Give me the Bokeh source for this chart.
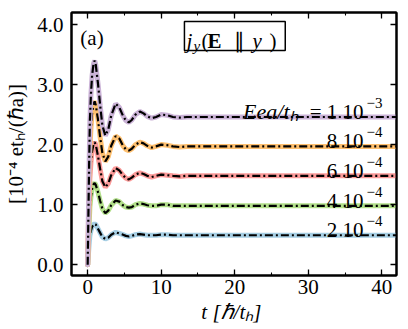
from bokeh.plotting import figure
from bokeh.models import (Range1d, LinearAxis, SingleIntervalTicker, PrintfTickFormatter,
                          BoxAnnotation, Label, CustomJSTickFormatter)
from bokeh.core.properties import value
from bokeh.embed import file_html
from bokeh.resources import INLINE

# ---- data ----
t = [0, 0.1, 0.2, 0.3, 0.45, 0.6, 0.8, 0.95, 1.1, 1.4,
     1.7, 2.0, 2.4, 2.8, 3.2, 3.8, 4.3, 4.8, 5.2, 5.6,
     6.0, 6.5, 7.1, 7.6, 8.1, 8.7, 9.3, 10.0, 10.8, 11.6,
     12.5, 13.5, 15, 20, 25, 30, 35, 40, 42]

j_1e3 = [0, 0.85, 1.70, 2.40, 2.85, 3.15, 3.35, 3.40, 3.33, 3.02,
         2.65, 2.32, 2.15, 2.25, 2.48, 2.68, 2.62, 2.48, 2.40, 2.37,
         2.41, 2.50, 2.55, 2.52, 2.47, 2.44, 2.46, 2.50, 2.49, 2.46,
         2.45, 2.46, 2.46, 2.46, 2.46, 2.46, 2.46, 2.46, 2.46]
j_8e4 = [0, 0.68, 1.36, 1.92, 2.28, 2.52, 2.68, 2.72, 2.66, 2.42,
         2.12, 1.86, 1.72, 1.80, 1.98, 2.14, 2.10, 1.98, 1.92, 1.90,
         1.93, 2.00, 2.04, 2.02, 1.98, 1.95, 1.97, 2.00, 1.99, 1.97,
         1.96, 1.97, 1.97, 1.97, 1.97, 1.97, 1.97, 1.97, 1.97]
j_6e4 = [0, 0.51, 1.02, 1.44, 1.71, 1.89, 2.01, 2.04, 2.00, 1.81,
         1.59, 1.39, 1.29, 1.35, 1.49, 1.61, 1.57, 1.49, 1.44, 1.42,
         1.45, 1.50, 1.53, 1.51, 1.48, 1.46, 1.48, 1.50, 1.49, 1.48,
         1.47, 1.48, 1.48, 1.48, 1.48, 1.48, 1.48, 1.48, 1.48]
j_4e4 = [0, 0.34, 0.68, 0.96, 1.14, 1.26, 1.34, 1.36, 1.33, 1.21,
         1.06, 0.93, 0.86, 0.90, 0.99, 1.07, 1.05, 0.99, 0.96, 0.95,
         0.96, 1.00, 1.02, 1.01, 0.99, 0.98, 0.98, 1.00, 1.00, 0.98,
         0.98, 0.98, 0.98, 0.98, 0.98, 0.98, 0.98, 0.98, 0.98]
j_2e4 = [0, 0.17, 0.34, 0.48, 0.57, 0.63, 0.67, 0.68, 0.67, 0.60,
         0.53, 0.46, 0.43, 0.45, 0.50, 0.54, 0.52, 0.50, 0.48, 0.47,
         0.48, 0.50, 0.51, 0.50, 0.49, 0.49, 0.49, 0.50, 0.50, 0.49,
         0.49, 0.49, 0.49, 0.49, 0.49, 0.49, 0.49, 0.49, 0.49]

series = [j_2e4, j_4e4, j_6e4, j_8e4, j_1e3]
colors = ["#a6cee3", "#b2df8a", "#fb9a99", "#fdbf6f", "#cab2d6"]
label_main = ["2 10", "4 10", "6 10", "8 10", "= 1 10"]
label_exp = ["\u22124", "\u22124", "\u22124", "\u22124", "\u22123"]

x_ticks_interval = 10
y_ticks_interval = 1

FONT = "'Liberation Serif', serif"

p = figure(frame_width=325, frame_height=263, output_backend="svg", toolbar_location=None,
           x_range=Range1d(-2.2, 42.0), y_range=Range1d(-0.18, 4.2),
           min_border_left=71, min_border_right=12, min_border_top=12, min_border_bottom=54)
p.background_fill_color = "white"
p.border_fill_color = "white"
p.outline_line_color = "black"
p.outline_line_width = 2
p.xgrid.visible = False
p.ygrid.visible = False

def style_axis(ax, ticker, show_labels):
    ax.ticker = ticker
    ax.axis_line_color = "black"
    ax.axis_line_width = 2
    ax.major_tick_in = 6
    ax.major_tick_out = 0
    ax.minor_tick_in = 3
    ax.minor_tick_out = 0
    ax.major_tick_line_color = "black"
    ax.minor_tick_line_color = "black"
    ax.major_tick_line_width = 1.3
    ax.minor_tick_line_width = 1.1
    ax.major_label_text_font = FONT
    ax.major_label_text_color = "black"
    if show_labels:
        ax.major_label_text_font_size = "21px"
        ax.major_label_standoff = 8
    else:
        ax.formatter = CustomJSTickFormatter(code="return ''")
        ax.major_label_text_font_size = "1px"
        ax.major_label_standoff = 0

xt = SingleIntervalTicker(interval=x_ticks_interval, num_minor_ticks=2)
yt = SingleIntervalTicker(interval=y_ticks_interval, num_minor_ticks=0)

style_axis(p.xaxis[0], xt, True)
style_axis(p.yaxis[0], yt, True)
p.yaxis[0].formatter = PrintfTickFormatter(format="%.1f")
p.xaxis[0].major_label_standoff = 4

p.xaxis[0].axis_label = "t  [\u210f/t\u2095]"
p.xaxis[0].axis_label_text_font_style = "italic"
p.xaxis[0].axis_label_standoff = 3
p.yaxis[0].axis_label = "[10\u207b\u2074 et\u2095/(\u210fa)]"
p.yaxis[0].axis_label_text_font_style = "normal"
p.yaxis[0].axis_label_standoff = 6
for ax in (p.xaxis[0], p.yaxis[0]):
    ax.axis_label_text_font = FONT
    ax.axis_label_text_font_size = "21px"
    ax.axis_label_text_color = "black"

top_ax = LinearAxis()
style_axis(top_ax, SingleIntervalTicker(interval=x_ticks_interval, num_minor_ticks=2), False)
p.add_layout(top_ax, "above")
right_ax = LinearAxis()
style_axis(right_ax, SingleIntervalTicker(interval=y_ticks_interval, num_minor_ticks=0), False)
p.add_layout(right_ax, "right")

for ys, c in zip(series, colors):
    p.line(t, ys, line_color=c, line_width=5, line_cap="round")
    p.line(t, ys, line_color="black", line_width=2.2, line_dash="8 3 2 3")

# labels at right end of each curve
x_lab = 40.1
finals = [s[-1] for s in series]
p.text(x=[x_lab] * 5, y=finals, text=label_exp, text_font=value(FONT), text_font_size="15px",
       text_align="right", text_baseline="alphabetic", y_offset=-14, text_color="black")
p.text(x=[x_lab] * 5, y=finals, text=label_main, text_font=value(FONT), text_font_size="21px",
       text_align="right", text_baseline="alphabetic", x_offset=-19, y_offset=-5, text_color="black")
p.text(x=[x_lab], y=[finals[-1]], text=["Eea/t\u2095"], text_font=value(FONT), text_font_size="22px",
       text_font_style="italic", text_align="right", text_baseline="alphabetic",
       x_offset=-84, y_offset=-5, text_color="black")

def lab(x, y, text, size="21px", style="normal", xo=0):
    p.add_layout(Label(x=x, y=y, text=text, text_font=FONT, text_font_size=size,
                       text_font_style=style, text_color="black", text_align="left",
                       text_baseline="alphabetic", x_offset=xo))

# panel tag
lab(-1.0, 3.77, "(a)", size="21px")

# boxed title j_y(E || y)
p.add_layout(BoxAnnotation(left=13.16, right=26.87, top=4.05, bottom=3.567,
                           fill_color="white", fill_alpha=1.0, line_color="black",
                           line_alpha=1.0, line_width=1.5))
tx, ty = 13.43, 3.73
for s, st, fs, dx, yy in [("j", "italic", "21px", 0, ty), ("y", "italic", "15px", 7, ty - 0.08),
                          ("(", "normal", "21px", 15, ty), ("E", "bold", "21px", 21, ty),
                          ("\u2225", "normal", "21px", 48, ty), ("y", "italic", "21px", 66, ty),
                          (")", "normal", "21px", 83, ty)]:
    lab(tx, yy, s, size=fs, style=st, xo=dx)

open("out.html", "w").write(file_html(p, INLINE))
